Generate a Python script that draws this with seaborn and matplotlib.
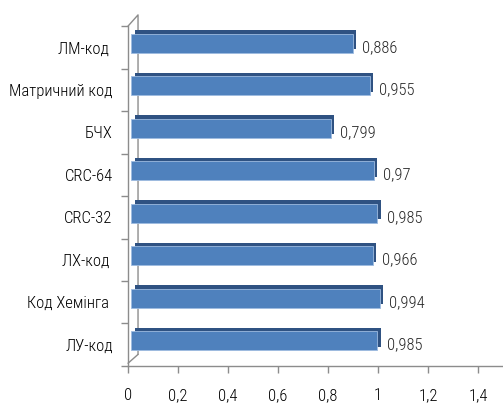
import matplotlib
matplotlib.use("Agg")
import matplotlib.pyplot as plt
import matplotlib.patheffects as pe
import matplotlib.transforms as mtransforms
import numpy as np
import pandas as pd
import seaborn as sns

# Код та ймовірність (зверху вниз)
codes = ["ЛМ-код ", "Матричний код", "БЧХ", "CRC-64", "CRC-32", "ЛХ-код ", "Код Хемінга ", "ЛУ-код"]
values = [0.886, 0.955, 0.799, 0.97, 0.985, 0.966, 0.994, 0.985]
x_ticks = [0, 0.2, 0.4, 0.6, 0.8, 1.0, 1.2, 1.4]
x_tick_labels = ["0", "0,2", "0,4", "0,6", "0,8", "1", "1,2", "1,4"]

df = pd.DataFrame({"code": codes, "value": values})

sns.set_theme(style="white")
plt.rcParams["font.family"] = ["Liberation Sans Narrow", "Roboto Condensed", "Open Sans Condensed",
                               "Noto Sans Condensed", "DejaVu Sans Condensed", "DejaVu Sans"]
plt.rcParams["font.stretch"] = "condensed"
plt.rcParams["font.weight"] = "light"

fig = plt.figure(figsize=(5.03, 4.08), dpi=100)
ax = fig.add_axes([0.2545, 0.103, 0.7455, 0.833])

bar_face = "#4F81BD"
bar_depth = "#2F5282"
axis_col = "#8C8C8C"
fs = 12

sns.barplot(data=df, y="code", x="value", orient="h", color=bar_face,
            width=0.45, saturation=1, edgecolor="#9DBBE0", linewidth=0.6, ax=ax)

# bars sit half-way into the 3D depth: nudge them up/right and add a dark back face
depth_shift = mtransforms.ScaledTranslation(0.03, 0.04, fig.dpi_scale_trans)
for p in ax.patches:
    p.set_transform(ax.transData + depth_shift)
    p.set_path_effects([
        pe.SimplePatchShadow(offset=(2.6, 2.6), shadow_rgbFace=bar_depth, alpha=1.0),
        pe.Normal(),
    ])

ax.set_xlim(0, 1.5)
ax.set_ylim(len(codes) - 0.5, -0.5)
ax.set_xticks(x_ticks)
ax.set_xticklabels(x_tick_labels)
ax.set_xlabel("")
ax.set_ylabel("")

# category boundary ticks on the vertical axis
ax.set_yticks(np.arange(-0.5, len(codes), 1.0), minor=True)
ax.tick_params(axis="y", which="major", length=0, pad=11, labelsize=fs, colors="black")
ax.tick_params(axis="y", which="minor", length=5, width=1, color=axis_col, left=True)
ax.tick_params(axis="x", which="major", length=5, width=1, color=axis_col, bottom=True,
               pad=11, labelsize=fs, labelcolor="black")

for side in ["top", "right"]:
    ax.spines[side].set_visible(False)
for side in ["left", "bottom"]:
    ax.spines[side].set_color(axis_col)
    ax.spines[side].set_linewidth(1.0)

# back wall of the 3D frame
dx, dy = 0.0267, 0.033
ax.plot([0, dx, dx], [1.0, 1.0 + dy, 0.034], transform=ax.transAxes,
        color=axis_col, lw=1.0, clip_on=False, zorder=0)
ax.plot([0.0, dx], [0.008, 0.034], transform=ax.transAxes,
        color=axis_col, lw=1.0, clip_on=False, zorder=0)

labels = [str(v).replace(".", ",") for v in values]
texts = ax.bar_label(ax.containers[0], labels=labels, padding=9, fontsize=fs)
label_shift = mtransforms.ScaledTranslation(0, 0.02, fig.dpi_scale_trans)
for t in texts:
    t.set_transform(t.get_transform() + label_shift)

fig.savefig("out.png", dpi=100)
